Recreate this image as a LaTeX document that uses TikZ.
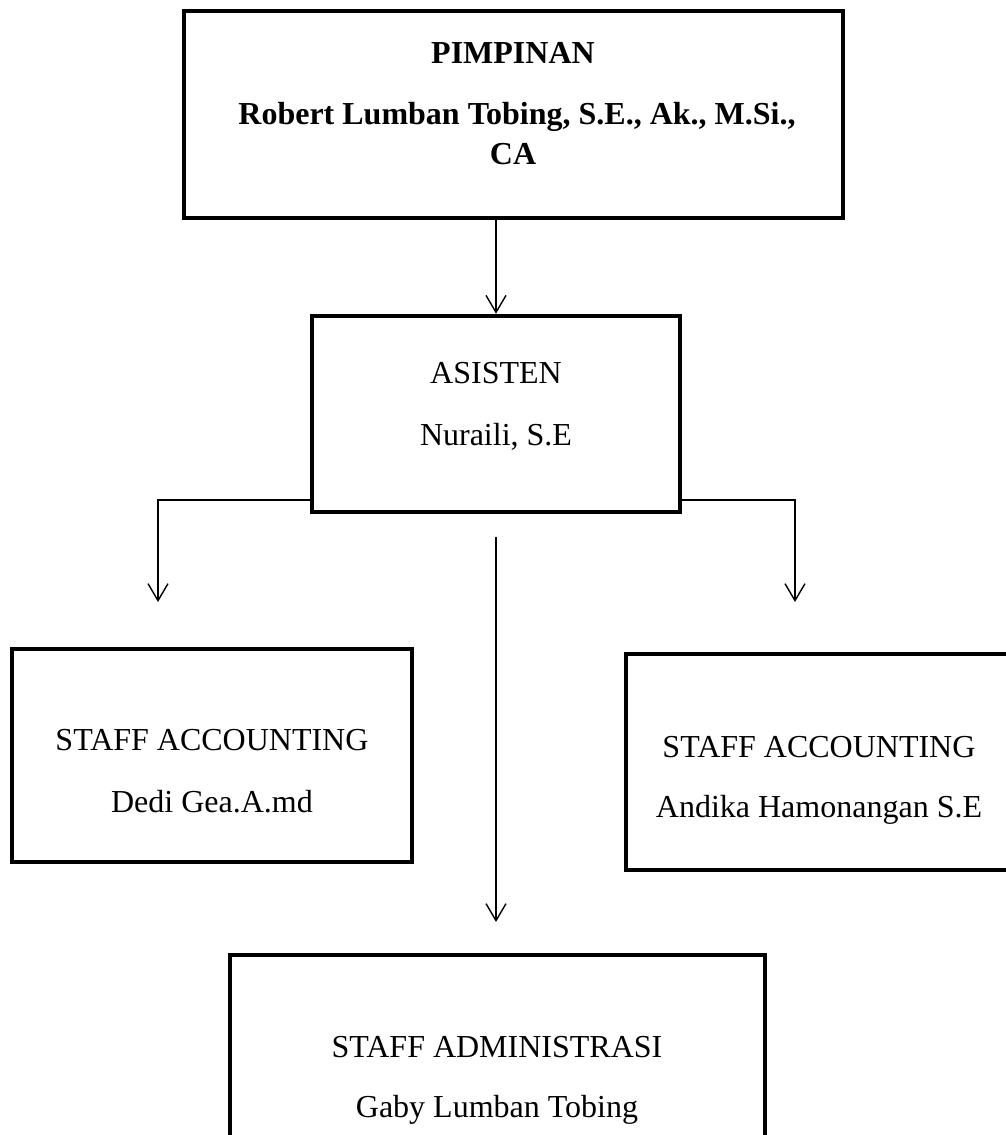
\documentclass[tikz,border=0pt]{standalone}
\usepackage{fontspec}
\setmainfont{Liberation Serif}
\usetikzlibrary{arrows.meta,calc}
\begin{document}
\begin{tikzpicture}[x=1pt,y=-1pt,
  box/.style={draw,line width=4.5pt,inner sep=0pt},
  lbl/.style={anchor=base,inner sep=0pt,font=\fontsize{32}{38}\selectfont},
  blbl/.style={anchor=base,inner sep=0pt,font=\fontsize{32}{38}\selectfont\bfseries},
  conn/.style={line width=1.4pt},
  arr/.style={conn,-{Straight Barb[length=17pt,width=20pt,line width=1.4pt]}}]
\useasboundingbox (0,0) rectangle (1006,1135);
\clip (0,0) rectangle (1006,1135);
% boxes
\node[box,minimum width=659pt,minimum height=207pt] (pim) at (513.5,114.5) {};
\node[box,minimum width=368pt,minimum height=196pt] (asis) at (496,414) {};
\node[box,minimum width=400pt,minimum height=213pt] (sl) at (212,755.5) {};
\node[box,minimum width=386pt,minimum height=216pt] (sr) at (819,762) {};
\node[box,minimum width=535pt,minimum height=245pt] (sa) at (497.5,1077.5) {};
% texts
\node[blbl] (t1) at (513,63) {PIMPINAN};
\node[blbl] (t2) at (517,124) {Robert Lumban Tobing, S.E., Ak., M.Si.,};
\node[blbl] (t3) at (513,164) {CA};
\node[lbl] (t4) at (496,383) {ASISTEN};
\node[lbl] (t5) at (496,445) {Nuraili, S.E};
\node[lbl] (t6) at (212,750) {STAFF ACCOUNTING};
\node[lbl] (t7) at (212,812) {Dedi Gea.A.md};
\node[lbl] (t8) at (819,757) {STAFF ACCOUNTING};
\node[lbl] (t9) at (819,817) {Andika Hamonangan S.E};
\node[lbl] (t10) at (497,1057) {STAFF ADMINISTRASI};
\node[lbl] (t11) at (497,1117) {Gaby Lumban Tobing};
% connector helpers
\coordinate (ax) at (496,0);
\coordinate (cy) at (0,500);
\coordinate (lx) at (158,602);
\coordinate (rx) at (795,602);
\coordinate (m1) at (496,537);
\coordinate (m2) at (496,922);
% connectors
\draw[arr] (pim.south -| ax) -- (asis.north -| ax);
\draw[arr] (asis.west |- cy) -| (lx);
\draw[arr] (asis.east |- cy) -| (rx);
\draw[arr] (m1) -- (m2);
\end{tikzpicture}
\end{document}
